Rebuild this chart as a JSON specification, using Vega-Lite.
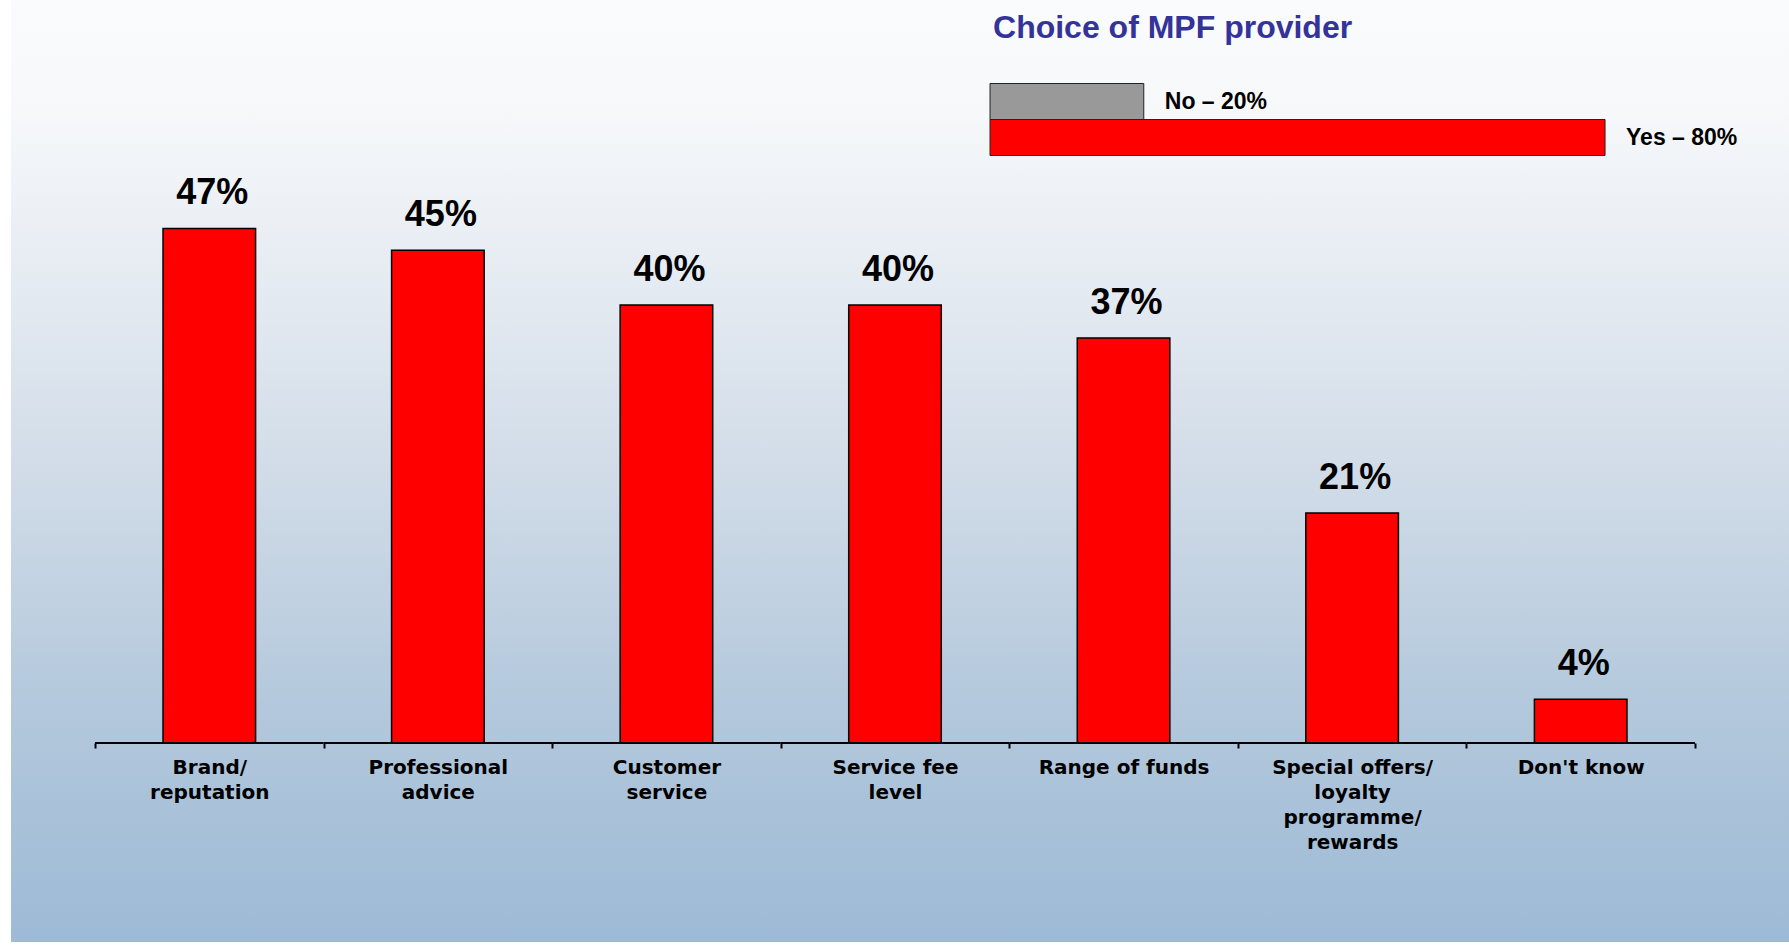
{
  "$schema": "https://vega.github.io/schema/vega-lite/v6.json",
  "width": 1778,
  "height": 942,
  "autosize": {"type": "none"},
  "padding": {"left": 11, "top": 0, "right": 0, "bottom": 9},
  "background": "white",
  "config": {"view": {"stroke": null}},
  "resolve": {"scale": {"x": "independent", "y": "independent"}},
  "layer": [
    {
      "data": {"values": [{}]},
      "mark": {
        "type": "rect",
        "fill": {
          "gradient": "linear",
          "x1": 0, "y1": 0, "x2": 0, "y2": 1,
          "stops": [
            {"offset": 0, "color": "#fafbfd"},
            {"offset": 0.12, "color": "#f6f8fa"},
            {"offset": 0.3, "color": "#e5ebf2"},
            {"offset": 0.5, "color": "#d1dce8"},
            {"offset": 0.75, "color": "#b3c8dc"},
            {"offset": 1, "color": "#9dbad6"}
          ]
        }
      },
      "encoding": {}
    },
    {
      "data": {
        "values": [
          {"factor": "Brand/\nreputation", "pct": 47, "pctLabel": "47%"},
          {"factor": "Professional\nadvice", "pct": 45, "pctLabel": "45%"},
          {"factor": "Customer\nservice", "pct": 40, "pctLabel": "40%"},
          {"factor": "Service fee\nlevel", "pct": 40, "pctLabel": "40%"},
          {"factor": "Range of funds", "pct": 37, "pctLabel": "37%"},
          {"factor": "Special offers/\nloyalty\nprogramme/\nrewards", "pct": 21, "pctLabel": "21%"},
          {"factor": "Don't know", "pct": 4, "pctLabel": "4%"}
        ]
      },
      "encoding": {
        "x": {
          "field": "factor",
          "type": "nominal",
          "sort": null,
          "scale": {"paddingInner": 0, "paddingOuter": 0.3895, "align": 0.4719},
          "axis": {
            "title": null,
            "orient": "bottom",
            "offset": -199,
            "zindex": 2,
            "domain": false,
            "tickBand": "extent",
            "tickSize": 5,
            "tickWidth": 2,
            "tickColor": "black",
            "labelAngle": 0,
            "labelAlign": "center",
            "labelBaseline": "top",
            "labelPadding": 9,
            "labelFont": "DejaVu Sans",
            "labelFontWeight": "bold",
            "labelFontSize": 20,
            "labelColor": "black",
            "labelLineHeight": 25,
            "labelLimit": 0,
            "labelOverlap": false,
            "labelExpr": "split(datum.label, '\\n')"
          }
        }
      },
      "layer": [
        {
          "mark": {"type": "bar", "width": {"band": 0.405}, "fill": "#ff0000", "stroke": "black", "strokeWidth": 1.5},
          "encoding": {
            "y": {
              "field": "pct",
              "type": "quantitative",
              "scale": {"domain": [-18.17, 67.86], "nice": false, "zero": false},
              "axis": null
            }
          }
        },
        {
          "mark": {"type": "text", "font": "Liberation Sans", "fontWeight": "bold", "fontSize": 36, "baseline": "alphabetic", "dy": -24, "dx": 3, "color": "black"},
          "encoding": {
            "y": {"field": "pct", "type": "quantitative"},
            "text": {"field": "pctLabel"}
          }
        },
        {
          "mark": {"type": "rule", "stroke": "black", "strokeWidth": 2},
          "encoding": {
            "x": {"field": "factor", "type": "nominal", "sort": null, "bandPosition": 0},
            "x2": {"field": "factor", "bandPosition": 1},
            "y": {"datum": 0}
          }
        }
      ]
    },
    {
      "data": {
        "values": [
          {"answer": "No", "pct": 20, "label": "No – 20%"},
          {"answer": "Yes", "pct": 80, "label": "Yes – 80%"}
        ]
      },
      "encoding": {
        "x": {
          "field": "pct",
          "type": "quantitative",
          "scale": {"domain": [-127.35, 103.93], "nice": false, "zero": false},
          "axis": null
        },
        "y": {
          "field": "answer",
          "type": "nominal",
          "scale": {"domain": ["No", "Yes"], "paddingInner": 0, "paddingOuter": 0, "range": [83.5, 155.5]},
          "axis": null
        }
      },
      "layer": [
        {
          "mark": {"type": "bar", "stroke": "#222222", "strokeWidth": 1},
          "encoding": {
            "color": {
              "field": "answer",
              "type": "nominal",
              "scale": {"domain": ["No", "Yes"], "range": ["#999999", "#ff0000"]},
              "legend": null
            }
          }
        },
        {
          "mark": {"type": "text", "align": "left", "baseline": "middle", "dx": 21, "font": "Liberation Sans", "fontWeight": "bold", "fontSize": 23, "color": "black"},
          "encoding": {"text": {"field": "label"}}
        },
        {
          "transform": [{"filter": "datum.answer == 'No'"}],
          "mark": {"type": "text", "align": "left", "baseline": "alphabetic", "dx": 3, "dy": -46, "font": "Liberation Sans", "fontWeight": "bold", "fontSize": 32, "color": "#333399"},
          "encoding": {
            "x": {"datum": 0},
            "y": {"field": "answer", "type": "nominal", "bandPosition": 0},
            "text": {"value": "Choice of MPF provider"}
          }
        }
      ]
    }
  ]
}
